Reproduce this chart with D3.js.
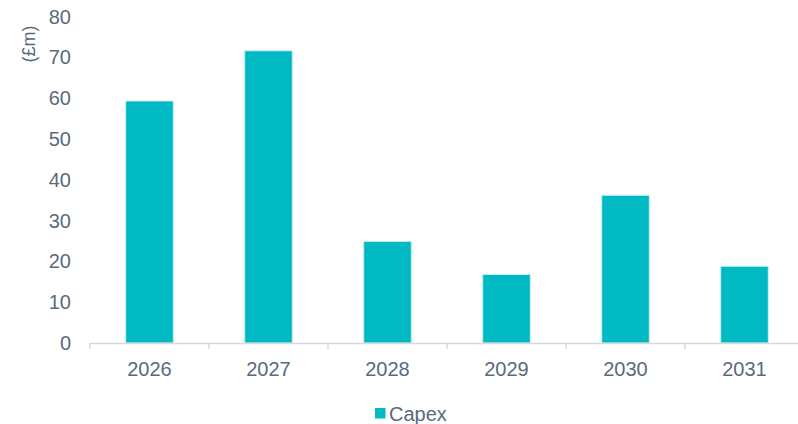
<!DOCTYPE html>
<html lang="en">
<head>
    <meta charset="UTF-8">
    <title>Capex</title>
    <script src="https://d3js.org/d3.v7.min.js"></script>
    <style>
        body { margin: 0; background: #fff; }
        svg { display: block; font-family: 'Liberation Sans', Arial, sans-serif; }
        .tick-label { fill: #596a7d; font-size: 20px; }
        .axis-title { fill: #596a7d; font-size: 18px; }
        .bar { fill: #00b9c3; stroke: #c9f0f2; stroke-width: 1; }
    </style>
</head>
<body>
<script>
    // chart data
    var years = ["2026", "2027", "2028", "2029", "2030", "2031"];
    var capex = [59.3, 71.6, 24.9, 16.8, 36.2, 18.8];
    var yTicks = [0, 10, 20, 30, 40, 50, 60, 70, 80];
    var seriesName = "Capex";

    var width = 798, height = 424;

    var svg = d3.select("body").append("svg")
        .attr("width", width)
        .attr("height", height);

    var x = d3.scaleBand()
        .domain(years)
        .range([90, 804])
        .paddingInner(0.6)
        .paddingOuter(0.3);

    var y = d3.scaleLinear()
        .domain([0, 80])
        .range([343, 16.5]);

    // y labels
    svg.selectAll(".ylab")
        .data(yTicks)
        .enter().append("text")
        .attr("class", "tick-label")
        .attr("x", 71)
        .attr("y", function(d) { return y(d); })
        .attr("dy", "0.35em")
        .attr("text-anchor", "end")
        .text(function(d) { return d; });

    // y title
    svg.append("text")
        .attr("class", "axis-title")
        .attr("transform", "translate(35,44) rotate(-90)")
        .attr("text-anchor", "middle")
        .text("(£m)");

    // bars
    svg.selectAll(".bar")
        .data(years)
        .enter().append("rect")
        .attr("class", "bar")
        .attr("x", function(d) { return x(d); })
        .attr("width", x.bandwidth())
        .attr("y", function(d, i) { return y(capex[i]); })
        .attr("height", function(d, i) { return y(0) - y(capex[i]); });

    // x axis
    var step = x.step();
    var xAxis = svg.append("g");
    xAxis.append("line")
        .attr("x1", 90).attr("x2", width)
        .attr("y1", y(0) + 0.5).attr("y2", y(0) + 0.5)
        .attr("stroke", "#d9d9d9").attr("stroke-width", 1.5);
    xAxis.selectAll(".xtick")
        .data(d3.range(years.length + 1))
        .enter().append("line")
        .attr("x1", function(i) { return 90 + i * step; })
        .attr("x2", function(i) { return 90 + i * step; })
        .attr("y1", y(0)).attr("y2", y(0) + 6)
        .attr("stroke", "#d9d9d9").attr("stroke-width", 1.5);
    xAxis.selectAll(".xlab")
        .data(years)
        .enter().append("text")
        .attr("class", "tick-label")
        .attr("x", function(d) { return x(d) + x.bandwidth() / 2; })
        .attr("y", 369)
        .attr("dy", "0.35em")
        .attr("text-anchor", "middle")
        .text(function(d) { return d; });

    // legend
    var legend = svg.append("g").attr("transform", "translate(375,408)");
    legend.append("rect")
        .attr("width", 10.5).attr("height", 10.5)
        .attr("fill", "#00b9c3");
    legend.append("text")
        .attr("class", "tick-label")
        .attr("x", 14)
        .attr("y", 5.5)
        .attr("dy", "0.35em")
        .text(seriesName);
</script>
</body>
</html>
